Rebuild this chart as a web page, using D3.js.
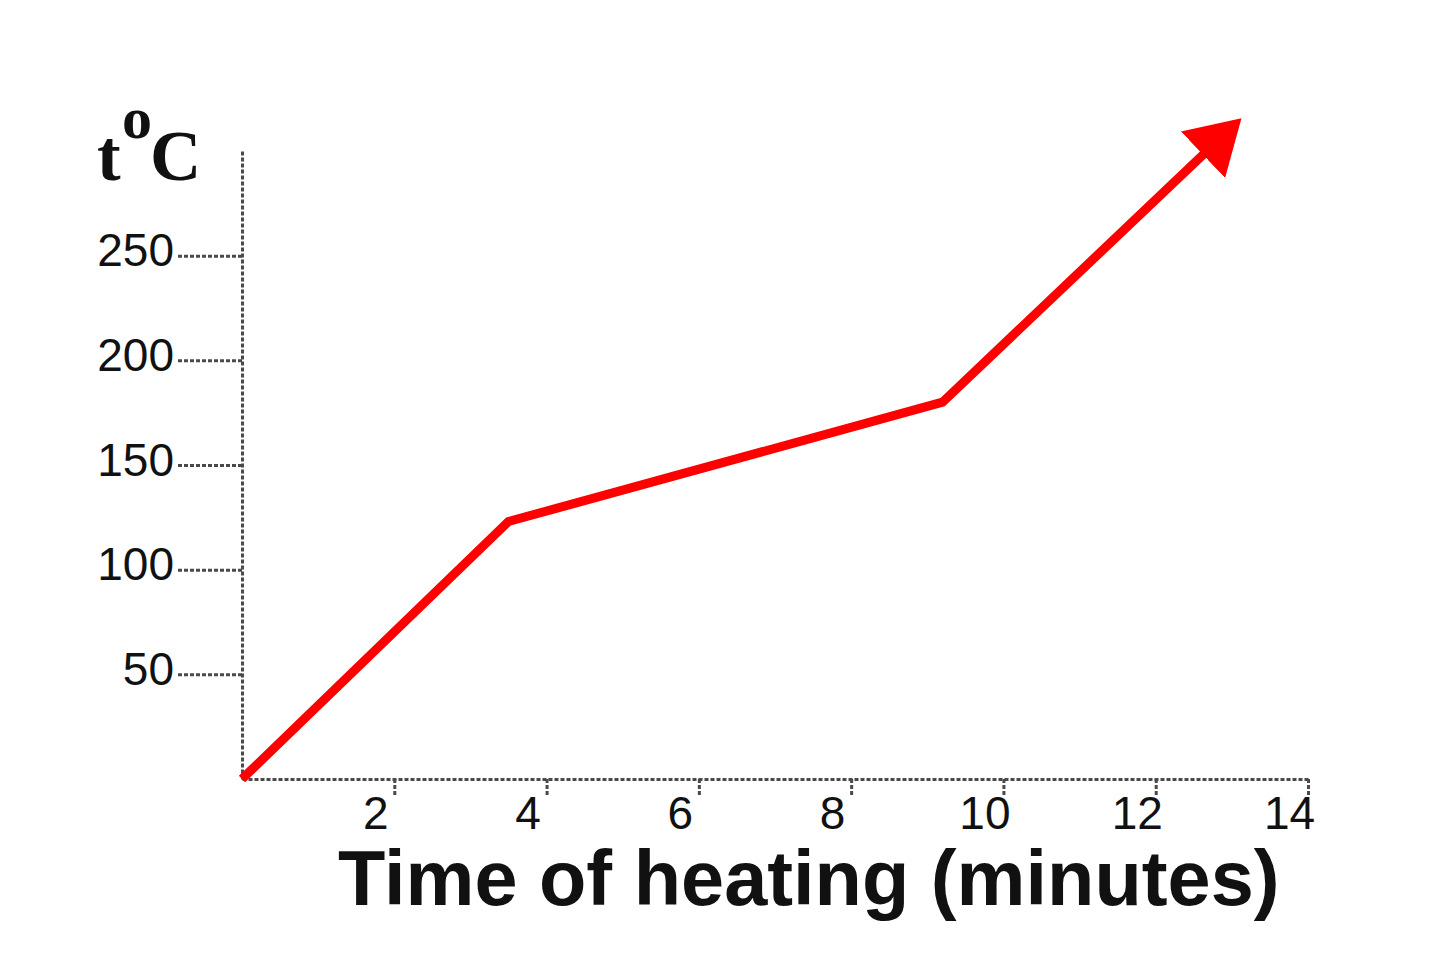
<!DOCTYPE html>
<html>
<head>
<meta charset="utf-8">
<script src="https://cdn.jsdelivr.net/npm/d3@7"></script>
<style>
  html, body { margin: 0; padding: 0; background: #fff; }
  svg { display: block; }
</style>
</head>
<body>
<svg id="chart" width="1440" height="960"></svg>
<script>
// heating curve data (minutes, °C)
const times = [0, 3.5, 9.2, 13.05];
const temps = [0, 123, 180, 313];
const xTicks = [2, 4, 6, 8, 10, 12, 14];
const yTicks = [50, 100, 150, 200, 250];
const xTitle = 'Time of heating (minutes)';

const svg = d3.select('#chart');

const x = d3.scaleLinear().domain([0, 14]).range([242, 1308]);
const y = d3.scaleLinear().domain([0, 300]).range([779, 151]);

const axisColor = '#4a4a4a';

// y axis: long dashed ticks to the left
const yAxis = svg.append('g')
  .attr('transform', `translate(${x(0)},0)`)
  .call(d3.axisLeft(y).tickValues(yTicks).tickSize(66).tickSizeOuter(0).tickPadding(2));

// x axis: short ticks down, labels a bit left of tick
const xAxis = svg.append('g')
  .attr('transform', `translate(0,${y(0)})`)
  .call(d3.axisBottom(x).tickValues(xTicks).tickSize(18).tickSizeOuter(0));

[yAxis, xAxis].forEach(g => {
  g.select('.domain')
    .attr('stroke', axisColor).attr('stroke-width', 3)
    .attr('stroke-dasharray', '4,2');
  g.selectAll('.tick line')
    .attr('stroke', axisColor).attr('stroke-width', 3)
    .attr('stroke-dasharray', '4,2');
  g.selectAll('.tick text')
    .attr('fill', '#111')
    .style('font-family', '"Liberation Sans", Arial, sans-serif')
    .style('font-size', '46px');
});
yAxis.selectAll('.tick text').attr('dy', '0.22em');
xAxis.selectAll('.tick text')
  .attr('x', -19).attr('y', 50).attr('dy', 0);

// arrow head at end of the curve
svg.append('defs').append('marker')
  .attr('id', 'arrow')
  .attr('markerUnits', 'userSpaceOnUse')
  .attr('viewBox', '0 -32 53 64')
  .attr('refX', 45).attr('refY', 0)
  .attr('markerWidth', 53).attr('markerHeight', 64)
  .attr('orient', 'auto')
  .append('path')
  .attr('d', 'M0,-32L53,0L0,32Z')
  .attr('fill', '#ff0000');

const pts = times.map((t, i) => [t, temps[i]]);
const line = d3.line().x(d => x(d[0])).y(d => y(d[1]));

svg.append('path')
  .datum(pts)
  .attr('d', line)
  .attr('fill', 'none')
  .attr('stroke', '#ff0000')
  .attr('stroke-width', 9)
  .attr('stroke-linejoin', 'miter')
  .attr('marker-end', 'url(#arrow)');

// axis titles
svg.append('text')
  .attr('x', 338).attr('y', 905)
  .style('font-family', '"Liberation Sans", Arial, sans-serif')
  .style('font-weight', 'bold')
  .style('font-size', '77.5px')
  .attr('fill', '#111')
  .text(xTitle);

const yTitle = svg.append('text')
  .style('font-family', '"Liberation Serif", "Times New Roman", serif')
  .style('font-weight', 'bold')
  .attr('fill', '#111');
yTitle.append('tspan').attr('x', 97).attr('y', 180).style('font-size', '71px').text('t');
yTitle.append('tspan').attr('x', 122).attr('y', 138).style('font-size', '60px').text('o');
yTitle.append('tspan').attr('x', 150).attr('y', 180).style('font-size', '71px').text('C');
</script>
</body>
</html>
